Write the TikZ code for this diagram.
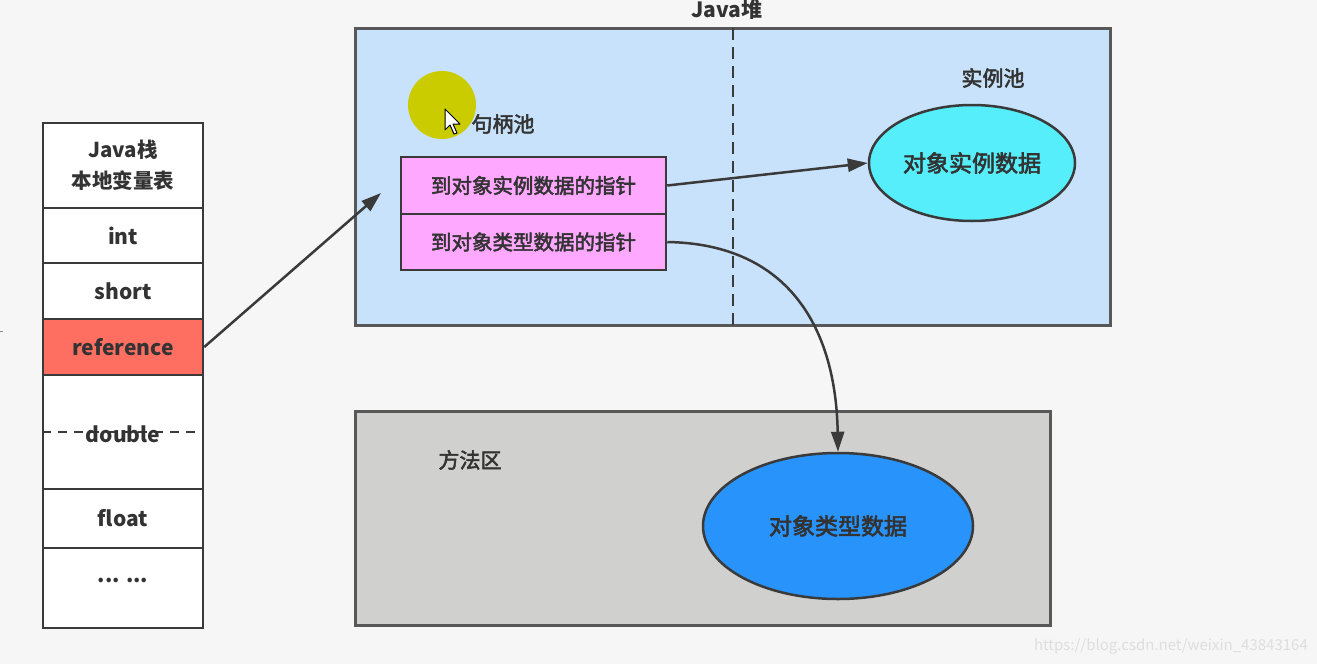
\documentclass[tikz,border=0pt]{standalone}
\usepackage{fontspec}
\setmainfont{Noto Sans CJK SC}
\newfontfamily\medfont{Noto Sans CJK SC}[FakeBold=2.5]
\usetikzlibrary{arrows.meta,shapes.geometric}
\definecolor{bgc}{HTML}{F5F6F5}
\definecolor{linec}{HTML}{3A3A3A}
\definecolor{txtc}{HTML}{333333}
\definecolor{refc}{HTML}{FF6F61}
\definecolor{heapc}{HTML}{C7E2FA}
\definecolor{pinkc}{HTML}{FFA8FF}
\definecolor{cyanc}{HTML}{56EEFA}
\definecolor{methc}{HTML}{D0D1CF}
\definecolor{bluec}{HTML}{2893FA}
\definecolor{yelc}{HTML}{CACC00}
\definecolor{wmc}{HTML}{DDDEDD}
\tikzset{
  cell/.style={draw=linec, line width=2.5pt, fill=white, minimum width=160pt, inner sep=0pt, text=txtc, font=\fontsize{21}{25}\selectfont\bfseries},
  area/.style={draw=linec!85, line width=3pt},
  ptrbox/.style={draw=linec, line width=2.5pt, fill=pinkc, minimum width=265pt, inner sep=0pt, text=txtc, font=\medfont\fontsize{20.5}{23}\selectfont},
  blob/.style={ellipse, draw=linec, line width=2.5pt, inner sep=0pt, text=txtc, font=\medfont\fontsize{23}{26}\selectfont},
  lbl/.style={text=txtc, font=\medfont\fontsize{21}{24}\selectfont, inner sep=0pt},
  hlbl/.style={text=txtc, font=\fontsize{20.5}{24}\selectfont\bfseries, inner sep=0pt},
  conn/.style={draw=linec, line width=2.5pt, -{Triangle[length=20pt,width=13pt]}}
}
\begin{document}
\begin{tikzpicture}[x=1pt,y=-1pt]
\useasboundingbox (0,0) rectangle (1317,664);
\fill[bgc] (0,0) rectangle (1317,664);
% stray mark at left edge
\draw[linec!60, line width=1pt] (0,331) -- (3,331);
% stack
\node[cell, minimum height=85pt] (hdr) at (123,165.5) {};
\node[hlbl] (hdr1) at (123,150) {Java栈};
\node[hlbl] (hdr2) at (123,181) {本地变量表};
\node[cell, minimum height=55pt] (int) at (123,235.5) {int};
\node[cell, minimum height=56pt] (short) at (123,291) {short};
\node[cell, minimum height=56pt, fill=refc] (ref) at (123,347) {reference};
\node[cell, minimum height=114pt, text opacity=0] (dbl) at (123,432) {double};
\node[cell, minimum height=59pt] (flt) at (123,518.5) {float};
\node[cell, minimum height=80pt] (dots) at (123,588) {};
\node[text=txtc, font=\fontsize{21}{25}\selectfont\bfseries, inner sep=0pt] (dotstxt) at (123,580) {... ...};
\draw[linec, line width=2pt, dash pattern=on 9pt off 7pt] (dbl.west) -- (dbl.east);
\node[text=txtc, font=\fontsize{21}{25}\selectfont\bfseries, inner sep=0pt] (dbltxt) at (123,434) {double};
% Java heap
\node[area, fill=heapc, minimum width=755pt, minimum height=297pt, inner sep=0pt] (heap) at (732.5,176.5) {};
\node[text=txtc, font=\fontsize{21}{24}\selectfont\bfseries, inner sep=0pt] (heaplbl) at (727,10) {Java堆};
\coordinate (dtop) at (733,28);
\coordinate (dbot) at (733,325);
\draw[linec, line width=2.5pt, dash pattern=on 12pt off 7pt] (dtop) -- (dbot);
% cursor highlight
\fill[yelc] (442,105) circle (34);
\draw[black, line width=1pt, fill=white, line join=round] (445,109) -- (445,130) -- (450,125) -- (454,134) -- (457,133) -- (453,124) -- (460,124) -- cycle;
\node[lbl] (hpool) at (503,124) {句柄池};
\node[lbl] (ipool) at (993,78) {实例池};
\node[ptrbox, minimum height=57pt] (p1) at (533.5,185.5) {到对象实例数据的指针};
\node[ptrbox, minimum height=56pt] (p2) at (533.5,242) {到对象类型数据的指针};
\node[blob, fill=cyanc, minimum width=206pt, minimum height=116pt] (inst) at (972,163) {对象实例数据};
% method area
\node[area, fill=methc, minimum width=695pt, minimum height=214pt, inner sep=0pt] (meth) at (702.5,518) {};
\node[lbl] (mlbl) at (470,460) {方法区};
\node[blob, fill=bluec, minimum width=270pt, minimum height=146pt] (type) at (838,526) {对象类型数据};
% connectors
\coordinate (refend) at (381,193);
\draw[conn] (ref.east) -- (refend);
\draw[conn] (p1.east) -- (inst.west);
\draw[conn] (p2.east) .. controls (790,244) and (836,330) .. (type.north);
% watermark
\node[text=wmc, font=\fontsize{15}{18}\selectfont, inner sep=0pt, anchor=east] (wm) at (1308,646) {https://blog.csdn.net/weixin\_43843164};
\end{tikzpicture}
\end{document}
